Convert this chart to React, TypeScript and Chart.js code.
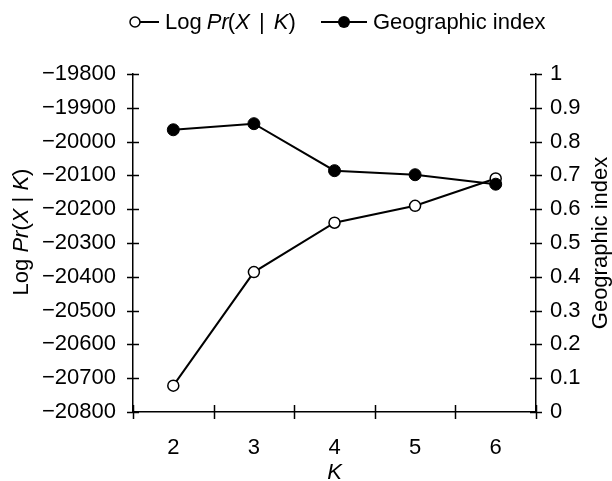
import React, { useEffect, useRef } from "react";
import { Chart, registerables } from "chart.js";

Chart.register(...registerables);

const categories = ["2", "3", "4", "5", "6"];
const logLikelihood = [-20722, -20386, -20240, -20190, -20109];
const geographicIndex = [0.835, 0.853, 0.714, 0.702, 0.674];
const leftMin = -20800;
const leftMax = -19800;
const rightMin = 0;
const rightMax = 1;

const FONT = "'Liberation Sans', Arial, sans-serif";
const SIZE = 22;

type Seg = { t: string; i?: boolean; gap?: number };
const legendSegs: Seg[] = [
  { t: "Log ", gap: -1 },
  { t: "Pr", i: true, gap: -1 },
  { t: "(" },
  { t: "X", i: true, gap: 3 },
  { t: " | ", gap: 3 },
  { t: "K", i: true },
  { t: ")" },
];
const axisSegs: Seg[] = [
  { t: "Log " },
  { t: "Pr", i: true },
  { t: "(" },
  { t: "X", i: true },
  { t: " | " },
  { t: "K", i: true },
  { t: ")" },
];

function segFont(s: Seg) {
  return `${s.i ? "italic " : ""}${SIZE}px ${FONT}`;
}
function richWidth(ctx: CanvasRenderingContext2D, segs: Seg[]) {
  let w = 0;
  segs.forEach((s) => {
    ctx.font = segFont(s);
    w += ctx.measureText(s.t).width + (s.gap || 0);
  });
  return w;
}
function drawRich(ctx: CanvasRenderingContext2D, segs: Seg[], x: number, y: number) {
  let cx = x;
  segs.forEach((s) => {
    ctx.font = segFont(s);
    ctx.fillText(s.t, cx, y);
    cx += ctx.measureText(s.t).width + (s.gap || 0);
  });
}

const decorPlugin = {
  id: "decor",
  afterDraw(chart: any) {
    const ctx: CanvasRenderingContext2D = chart.ctx;
    const area = chart.chartArea;
    const ys = chart.scales.y;
    const yr = chart.scales.y1;
    const xs = chart.scales.x;
    ctx.save();
    ctx.strokeStyle = "#000";
    ctx.fillStyle = "#000";
    ctx.lineWidth = 1.5;
    ys.ticks.forEach((_t: any, i: number) => {
      const p = Math.round(ys.getPixelForTick(i)) + 0.5;
      ctx.beginPath();
      ctx.moveTo(area.left - 6, p);
      ctx.lineTo(area.left + 6, p);
      ctx.stroke();
    });
    yr.ticks.forEach((_t: any, i: number) => {
      const p = Math.round(yr.getPixelForTick(i)) + 0.5;
      ctx.beginPath();
      ctx.moveTo(area.right - 6, p);
      ctx.lineTo(area.right + 6, p);
      ctx.stroke();
    });
    const n = xs.ticks.length;
    const bounds: number[] = [area.left];
    for (let i = 0; i < n - 1; i++) {
      bounds.push((xs.getPixelForTick(i) + xs.getPixelForTick(i + 1)) / 2);
    }
    bounds.push(area.right);
    bounds.forEach((b) => {
      const p = Math.round(b) + 0.5;
      ctx.beginPath();
      ctx.moveTo(p, area.bottom - 7);
      ctx.lineTo(p, area.bottom + 7);
      ctx.stroke();
    });

    // Legend
    ctx.textBaseline = "alphabetic";
    ctx.textAlign = "left";
    const ly = 22;
    ctx.lineWidth = 2;
    ctx.beginPath();
    ctx.moveTo(135, ly);
    ctx.lineTo(159, ly);
    ctx.stroke();
    ctx.beginPath();
    ctx.arc(135, ly, 5, 0, Math.PI * 2);
    ctx.fillStyle = "#fff";
    ctx.fill();
    ctx.lineWidth = 1.5;
    ctx.stroke();
    ctx.fillStyle = "#000";
    drawRich(ctx, legendSegs, 165, 29);

    ctx.lineWidth = 2;
    ctx.beginPath();
    ctx.moveTo(321, ly);
    ctx.lineTo(367, ly);
    ctx.stroke();
    ctx.beginPath();
    ctx.arc(344, ly, 6, 0, Math.PI * 2);
    ctx.fill();
    ctx.font = `${SIZE}px ${FONT}`;
    ctx.fillText("Geographic index", 373, 29);

    // Left axis title
    ctx.save();
    ctx.translate(28, 232);
    ctx.rotate(-Math.PI / 2);
    const w = richWidth(ctx, axisSegs);
    drawRich(ctx, axisSegs, -w / 2, 0);
    ctx.restore();

    // Right axis title
    ctx.save();
    ctx.translate(607, 243);
    ctx.rotate(-Math.PI / 2);
    ctx.font = `${SIZE}px ${FONT}`;
    ctx.textAlign = "center";
    ctx.fillText("Geographic index", 0, 0);
    ctx.restore();

    // X title
    ctx.font = `italic ${SIZE}px ${FONT}`;
    ctx.textAlign = "center";
    ctx.fillText("K", (area.left + area.right) / 2, 479);

    ctx.restore();
  },
};

export default function App() {
  const ref = useRef<HTMLCanvasElement | null>(null);
  useEffect(() => {
    if (!ref.current) return;
    const tickFont = { family: FONT, size: SIZE };
    const chart = new Chart(ref.current, {
      type: "line",
      data: {
        labels: categories,
        datasets: [
          {
            label: "Geographic index",
            data: geographicIndex,
            yAxisID: "y1",
            borderColor: "#000",
            backgroundColor: "#000",
            pointBackgroundColor: "#000",
            pointBorderColor: "#000",
            pointRadius: 6,
            pointBorderWidth: 1,
            borderWidth: 2,
            order: 0,
          },
          {
            label: "Log Pr(X | K)",
            data: logLikelihood,
            yAxisID: "y",
            borderColor: "#000",
            backgroundColor: "#fff",
            pointBackgroundColor: "#fff",
            pointBorderColor: "#000",
            pointRadius: 5.5,
            pointBorderWidth: 1.5,
            borderWidth: 2,
            order: 1,
          },
        ],
      },
      options: {
        animation: false,
        responsive: false,
        devicePixelRatio: 1,
        layout: { padding: { top: 74, left: 0, right: 0, bottom: 0 } },
        plugins: { legend: { display: false }, tooltip: { enabled: false } },
        scales: {
          x: {
            type: "category",
            offset: true,
            grid: { display: false },
            border: { display: true, color: "#000", width: 1.5 },
            ticks: { color: "#000", font: tickFont, padding: 15, maxRotation: 0 },
            afterFit: (s: any) => {
              s.height = 69;
            },
          },
          y: {
            position: "left",
            min: leftMin,
            max: leftMax,
            grid: { display: false },
            border: { display: true, color: "#000", width: 1.5 },
            ticks: {
              stepSize: 100,
              color: "#000",
              font: tickFont,
              padding: 9,
              callback: (v: any) => String(v).replace("-", "\u2212"),
            },
            afterFit: (s: any) => {
              s.width = 133;
            },
          },
          y1: {
            position: "right",
            min: rightMin,
            max: rightMax,
            grid: { display: false },
            border: { display: true, color: "#000", width: 1.5 },
            ticks: {
              stepSize: 0.1,
              color: "#000",
              font: tickFont,
              padding: 6,
              callback: (v: any) => String(Math.round(Number(v) * 10) / 10),
            },
            afterFit: (s: any) => {
              s.width = 76;
            },
          },
        },
      } as any,
      plugins: [decorPlugin],
    });
    return () => chart.destroy();
  }, []);
  return (
    <div style={{ position: "absolute", left: 0, top: 0, width: 612, height: 481, background: "#fff" }}>
      <canvas ref={ref} width={612} height={481} style={{ display: "block" }} />
    </div>
  );
}
